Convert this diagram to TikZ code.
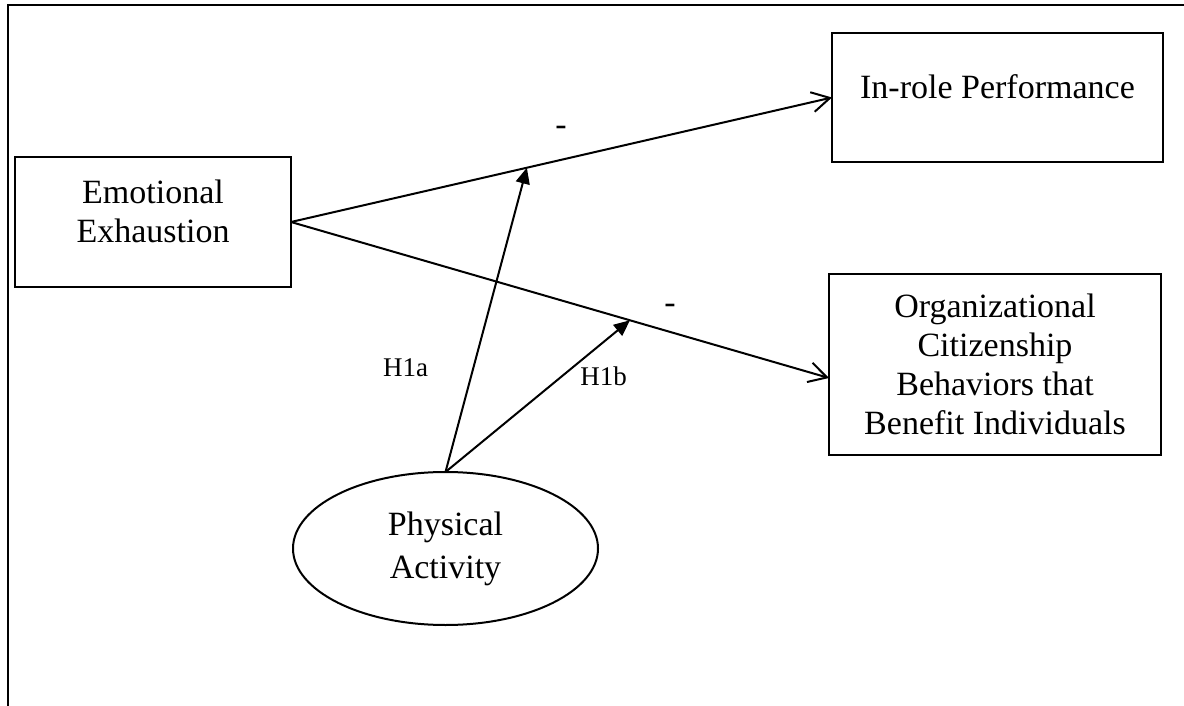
\documentclass[tikz,border=0pt]{standalone}
\usepackage{fontspec}
\setmainfont{Liberation Serif}
\usetikzlibrary{shapes.geometric,arrows.meta,calc}
\begin{document}
\begin{tikzpicture}[x=1pt,y=-1pt,
  box/.style={draw, line width=2pt, rectangle, inner sep=0pt, outer sep=0pt, align=center, font=\fontsize{34}{39}\selectfont},
  oval/.style={draw, line width=2pt, ellipse, inner sep=0pt, outer sep=0pt, align=center, font=\fontsize{34}{43}\selectfont},
  conn/.style={line width=2pt, -{Straight Barb[length=18pt,width=20pt,line width=2pt]}},
  modarrow/.style={line width=2pt, -{Triangle[length=16pt,width=14pt]}},
  sign/.style={inner sep=0pt, font=\fontsize{34}{39}\selectfont},
  hyp/.style={inner sep=0pt, font=\fontsize{27}{30}\selectfont}
]
\useasboundingbox (0,0) rectangle (1184,706);
\draw[line width=2.2pt] (8,706) -- (8,5) -- (1184,5);

\node[box, minimum width=276pt, minimum height=130pt, text depth=22pt] (ee) at (153,222) {Emotional\\Exhaustion};
\node[box, minimum width=331pt, minimum height=129pt, text depth=22pt] (irp) at (997.5,97.5) {In-role Performance};
\node[box, minimum width=332pt, minimum height=181pt] (ocb) at (995,364.5) {Organizational\\Citizenship\\Behaviors that\\Benefit Individuals};
\node[oval, minimum width=305pt, minimum height=153pt] (pa) at (445.5,548.5) {Physical\\Activity};

\coordinate (ocbin) at ($(ocb.west)+(0,13.5)$);
\draw[conn] (ee.east) -- (irp.west);
\draw[conn] (ee.east) -- (ocbin);
\coordinate (ma) at ($(ee.east)!0.436!(irp.west)$);
\coordinate (mb) at ($(ee.east)!0.63!(ocbin)$);
\draw[modarrow] (pa.north) -- (ma);
\draw[modarrow] (pa.north) -- (mb);

\node[sign] (s1) at (561,131) {-};
\node[sign] (s2) at (670,309) {-};
\node[hyp, anchor=base] (h1a) at (405.5,376) {H1a};
\node[hyp, anchor=base] (h1b) at (603.5,385) {H1b};
\end{tikzpicture}
\end{document}
